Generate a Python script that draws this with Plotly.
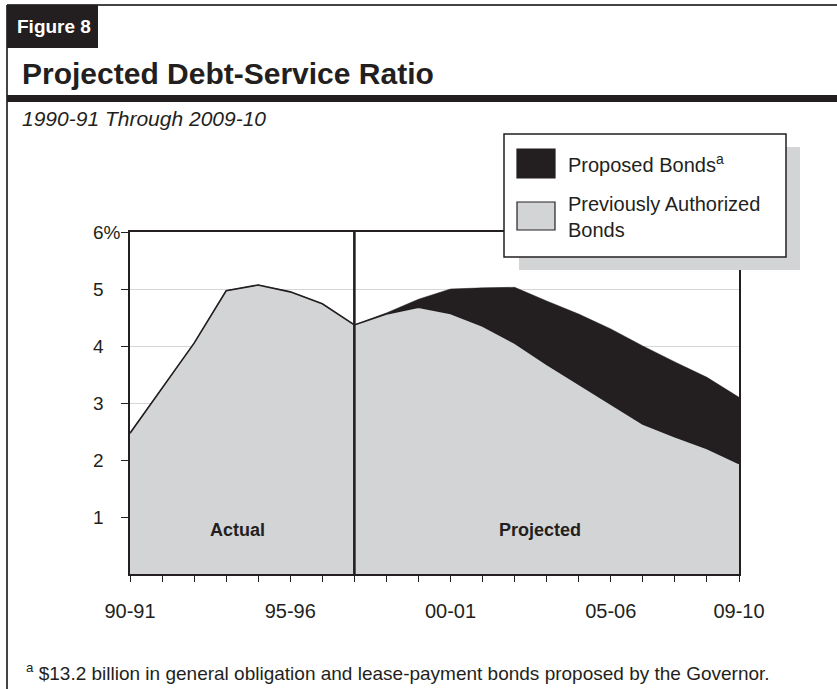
import plotly.graph_objects as go

# ---------------- data ----------------
years = ["90-91", "91-92", "92-93", "93-94", "94-95", "95-96", "96-97", "97-98",
         "98-99", "99-00", "00-01", "01-02", "02-03", "03-04", "04-05", "05-06",
         "06-07", "07-08", "08-09", "09-10"]
previously_authorized = [2.47, 3.25, 4.05, 4.97, 5.07, 4.95, 4.74, 4.37,
                         4.56, 4.68, 4.57, 4.35, 4.05, 3.68, 3.33, 2.99,
                         2.63, 2.41, 2.20, 1.94]
proposed_years = years[7:]
proposed = [0.0, 0.02, 0.14, 0.43, 0.67, 0.98, 1.11, 1.23, 1.31, 1.37, 1.31, 1.25, 1.16]
labeled_years = ["90-91", "95-96", "00-01", "05-06", "09-10"]
y_tickvals = [1, 2, 3, 4, 5, 6]
y_ticktext = ["1", "2", "3", "4", "5", "6%"]
divider_year = "97-98"

# ---------------- style ----------------
W, H = 837, 689
L, R, T, B = 130, 739, 232, 574
BLACK = "#231f20"
GRAY = "#d3d4d6"
FONT = "Liberation Sans, Arial, sans-serif"


def px(x):
    return (x - L) / (R - L)


def py(y):
    return (B - y) / (B - T)


x_all = [years.index(y) for y in years]
x_prop = [years.index(y) for y in proposed_years]

fig = go.Figure()
fig.add_trace(go.Scatter(
    x=x_all, y=previously_authorized, stackgroup="one", mode="lines",
    line=dict(color=BLACK, width=1.6), fillcolor=GRAY,
    name="Previously Authorized Bonds", showlegend=False,
    text=years, hovertemplate="%{text}: %{y}%<extra></extra>"))
fig.add_trace(go.Scatter(
    x=x_prop, y=proposed, stackgroup="one", mode="lines",
    line=dict(color=BLACK, width=0.5), fillcolor=BLACK,
    name="Proposed Bonds", showlegend=False,
    text=proposed_years, hovertemplate="%{text}: %{y}%<extra></extra>"))

shapes = []
div_i = years.index(divider_year)
shapes.append(dict(type="line", xref="x", yref="y", x0=div_i, x1=div_i, y0=0, y1=6,
                   line=dict(color=BLACK, width=2.6), layer="above"))

# outer frame
shapes.append(dict(type="line", xref="paper", yref="paper", x0=px(7), x1=px(837),
                   y0=py(5), y1=py(5), line=dict(color="#444", width=2)))
shapes.append(dict(type="line", xref="paper", yref="paper", x0=px(7), x1=px(7),
                   y0=py(5), y1=py(689), line=dict(color="#444", width=2)))
# Figure 8 box
shapes.append(dict(type="rect", xref="paper", yref="paper", x0=px(7), x1=px(98),
                   y0=py(5), y1=py(48), fillcolor=BLACK, line=dict(width=0)))
# thick bar under title
shapes.append(dict(type="rect", xref="paper", yref="paper", x0=px(7), x1=px(837),
                   y0=py(95), y1=py(102), fillcolor=BLACK, line=dict(width=0)))

# legend shadow and box
shapes.append(dict(type="rect", xref="paper", yref="paper", x0=px(519), x1=px(800),
                   y0=py(147), y1=py(270), fillcolor=GRAY, line=dict(width=0), layer="above"))
shapes.append(dict(type="rect", xref="paper", yref="paper", x0=px(504), x1=px(786),
                   y0=py(134), y1=py(257), fillcolor="white",
                   line=dict(color=BLACK, width=1.5), layer="above"))
shapes.append(dict(type="rect", xref="paper", yref="paper", x0=px(517), x1=px(555),
                   y0=py(149), y1=py(178), fillcolor=BLACK,
                   line=dict(color=BLACK, width=1.2), layer="above"))
shapes.append(dict(type="rect", xref="paper", yref="paper", x0=px(517), x1=px(555),
                   y0=py(202), y1=py(230), fillcolor=GRAY,
                   line=dict(color=BLACK, width=1.2), layer="above"))

ann = []


def text(x, y, t, size, bold=False, italic=False, color=BLACK, xanchor="left", yanchor="middle"):
    s = t
    if bold:
        s = "<b>" + s + "</b>"
    if italic:
        s = "<i>" + s + "</i>"
    ann.append(dict(xref="paper", yref="paper", x=px(x), y=py(y), text=s, showarrow=False,
                    xanchor=xanchor, yanchor=yanchor, align="left",
                    font=dict(family=FONT, size=size, color=color)))


text(15, 26, "Figure 8", 19, bold=True, color="white")
text(20, 73, "Projected Debt-Service Ratio", 30, bold=True)
text(20, 119, "1990-91 Through 2009-10", 21, italic=True)
text(566, 163, "Proposed Bonds<sup>a</sup>", 20)
text(566, 217, "Previously Authorized<br>Bonds", 20)
text(237, 530, "Actual", 18, bold=True, xanchor="center")
text(540, 530, "Projected", 18, bold=True, xanchor="center")
text(24, 672, "<sup>a</sup> $13.2 billion in general obligation and lease-payment bonds proposed by the Governor.", 19)

# y tick labels (left aligned as in the original)
for v, t in zip(y_tickvals, y_ticktext):
    ann.append(dict(xref="paper", yref="y", x=px(91), y=v, text=t, showarrow=False,
                    xanchor="left", yanchor="middle",
                    font=dict(family=FONT, size=19, color=BLACK)))

fig.update_layout(
    width=W, height=H,
    margin=dict(l=L, r=W - R, t=T, b=H - B, pad=0),
    paper_bgcolor="white", plot_bgcolor="white",
    shapes=shapes, annotations=ann, showlegend=False,
    font=dict(family=FONT, color=BLACK),
)
fig.update_xaxes(
    type="linear", range=[0, len(years) - 1],
    tickmode="array", tickvals=[years.index(y) for y in labeled_years],
    ticktext=labeled_years,
    ticks="outside", ticklen=6, tickwidth=1.3, tickcolor=BLACK,
    minor=dict(dtick=1, tick0=0, ticks="outside", ticklen=6, tickwidth=1.3,
               tickcolor=BLACK, showgrid=False),
    tickfont=dict(family=FONT, size=20, color=BLACK), ticklabelstandoff=12,
    showline=True, linecolor=BLACK, linewidth=1.6, mirror=True,
    showgrid=False, zeroline=False,
)
fig.update_yaxes(
    range=[0, 6], tickmode="array", tickvals=y_tickvals, showticklabels=False,
    ticks="outside", ticklen=7, tickwidth=1.3, tickcolor=BLACK,
    showline=True, linecolor=BLACK, linewidth=1.6, mirror=True,
    showgrid=True, gridcolor="#d6d6d6", gridwidth=1.2, zeroline=False,
)

fig.write_html("out.html")
